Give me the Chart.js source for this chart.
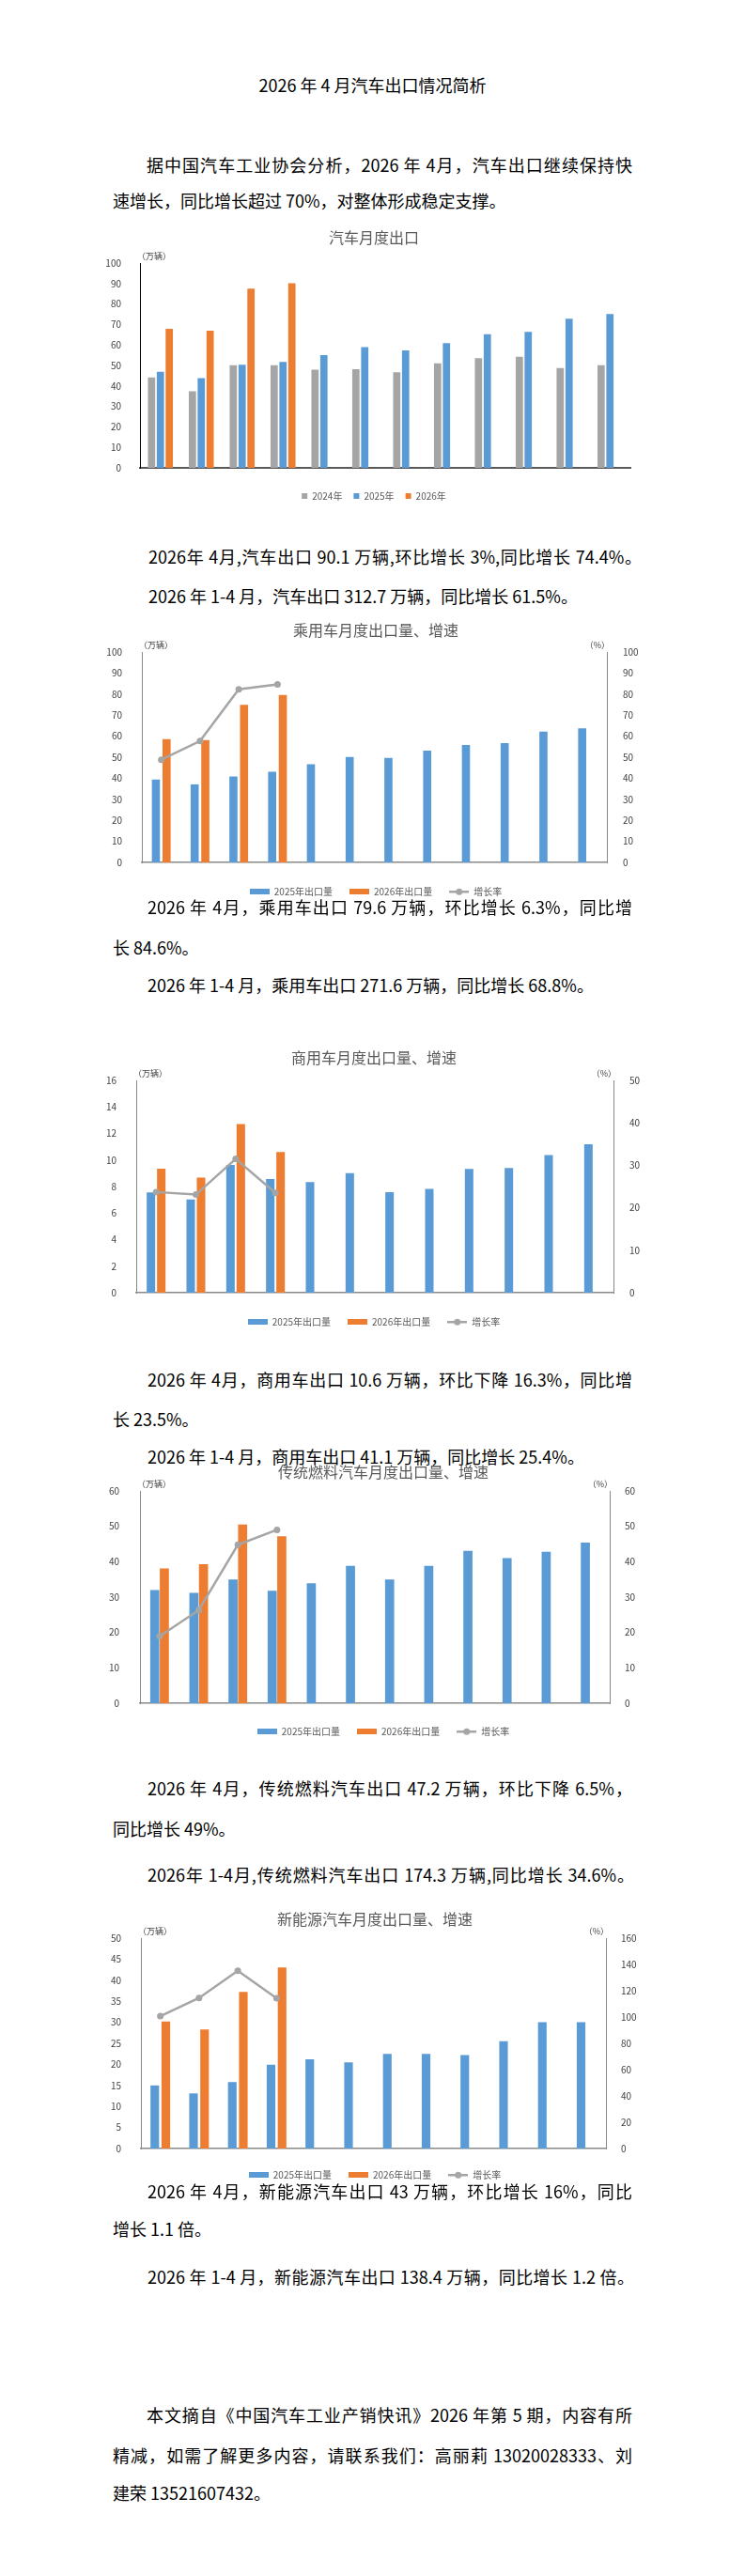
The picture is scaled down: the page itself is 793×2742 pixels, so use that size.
<!DOCTYPE html>
<html lang="zh">
<head>
<meta charset="utf-8">
<title>2026年4月汽车出口情况简析</title>
<script src="https://cdn.jsdelivr.net/npm/chart.js@4.4.1/dist/chart.umd.min.js"></script>
<style>
  body { margin: 0; background: #fff; }
  #page { position: relative; width: 793px; height: 2742px; overflow: hidden;
          font-family: "Noto Sans CJK SC", "Noto Sans", sans-serif; color: #000; }
  .ln { position: absolute; font-size: 18px; line-height: 26px; white-space: nowrap; }
  .jf { white-space: normal; text-align: justify; text-align-last: justify; }
  canvas { position: absolute; left: 0; }
</style>
</head>
<body>
<div id="page">
  <div class="ln" style="left:0;width:793px;text-align:center;top:77px">2026 年 4 月汽车出口情况简析</div>
  <div class="ln jf" style="left:156px;width:517px;top:162px">据中国汽车工业协会分析，2026 年 4月，汽车出口继续保持快</div>
  <div class="ln" style="left:120px;top:200px">速增长，同比增长超过 70%，对整体形成稳定支撑。</div>

  <canvas id="totalChart"></canvas>

  <div class="ln jf" style="left:158px;width:525px;top:579px">2026年 4月,汽车出口 90.1 万辆,环比增长 3%,同比增长 74.4%。</div>
  <div class="ln" style="left:158px;top:621px">2026 年 1-4 月，汽车出口 312.7 万辆，同比增长 61.5%。</div>

  <canvas id="passengerChart"></canvas>

  <div class="ln jf" style="left:157px;width:516px;top:952px">2026 年 4月，乘用车出口 79.6 万辆，环比增长 6.3%，同比增</div>
  <div class="ln" style="left:120px;top:995px">长 84.6%。</div>
  <div class="ln" style="left:157px;top:1035px">2026 年 1-4 月，乘用车出口 271.6 万辆，同比增长 68.8%。</div>

  <canvas id="commercialChart"></canvas>

  <div class="ln jf" style="left:157px;width:516px;top:1455px">2026 年 4月，商用车出口 10.6 万辆，环比下降 16.3%，同比增</div>
  <div class="ln" style="left:120px;top:1497px">长 23.5%。</div>
  <div class="ln" style="left:157px;top:1537px">2026 年 1-4 月，商用车出口 41.1 万辆，同比增长 25.4%。</div>

  <canvas id="fuelChart"></canvas>

  <div class="ln jf" style="left:157px;width:516px;top:1890px">2026 年 4月，传统燃料汽车出口 47.2 万辆，环比下降 6.5%，</div>
  <div class="ln" style="left:120px;top:1933px">同比增长 49%。</div>
  <div class="ln jf" style="left:157px;width:518px;top:1982px">2026年 1-4月,传统燃料汽车出口 174.3 万辆,同比增长 34.6%。</div>

  <canvas id="nevChart"></canvas>

  <div class="ln jf" style="left:157px;width:516px;top:2319px">2026 年 4月，新能源汽车出口 43 万辆，环比增长 16%，同比</div>
  <div class="ln" style="left:120px;top:2359px">增长 1.1 倍。</div>
  <div class="ln jf" style="left:157px;width:518px;top:2410px">2026 年 1-4 月，新能源汽车出口 138.4 万辆，同比增长 1.2 倍。</div>

  <div class="ln jf" style="left:156px;width:517px;top:2557px">本文摘自《中国汽车工业产销快讯》2026 年第 5 期，内容有所</div>
  <div class="ln jf" style="left:120px;width:553px;top:2600px">精减，如需了解更多内容，请联系我们：高丽莉 13020028333、刘</div>
  <div class="ln" style="left:120px;top:2640px">建荣 13521607432。</div>
</div>

<script>
// 数据（万辆 / %）
const months = ['1月', '2月', '3月', '4月', '5月', '6月', '7月', '8月', '9月', '10月', '11月', '12月'];

const total2024 = [44.1, 37.4, 50.1, 50.1, 47.9, 48.2, 46.7, 51.0, 53.6, 54.2, 48.7, 50.1];
const total2025 = [46.9, 43.8, 50.4, 51.7, 55.0, 58.9, 57.3, 60.9, 65.2, 66.4, 72.8, 75.1];
const total2026 = [67.9, 67.0, 87.5, 90.1];
const totalTicks = [0, 10, 20, 30, 40, 50, 60, 70, 80, 90, 100];

const passenger2025 = [39.4, 37.1, 40.8, 43.1, 46.6, 50.1, 49.7, 53.1, 55.8, 56.7, 62.2, 63.7];
const passenger2026 = [58.6, 58.2, 74.9, 79.6];
const passengerRate = [48.8, 57.7, 82.3, 84.6];
const passengerTicks = [0, 10, 20, 30, 40, 50, 60, 70, 80, 90, 100];
const passengerRateTicks = [0, 10, 20, 30, 40, 50, 60, 70, 80, 90, 100];

const commercial2025 = [7.55, 7.03, 9.63, 8.57, 8.33, 9.01, 7.58, 7.83, 9.32, 9.39, 10.38, 11.19];
const commercial2026 = [9.35, 8.68, 12.7, 10.6];
const commercialRate = [23.7, 23.1, 31.5, 23.5];
const commercialTicks = [0, 2, 4, 6, 8, 10, 12, 14, 16];
const commercialRateTicks = [0, 10, 20, 30, 40, 50];

const fuel2025 = [32.0, 31.2, 35.0, 31.8, 33.9, 38.8, 35.0, 38.8, 43.1, 41.0, 42.8, 45.4];
const fuel2026 = [38.1, 39.3, 50.5, 47.2];
const fuelRate = [18.9, 26.3, 44.8, 49.0];
const fuelTicks = [0, 10, 20, 30, 40, 50, 60];
const fuelRateTicks = [0, 10, 20, 30, 40, 50, 60];

const nev2025 = [15.0, 13.1, 15.8, 19.9, 21.2, 20.5, 22.5, 22.5, 22.2, 25.5, 30.0, 30.0];
const nev2026 = [30.2, 28.3, 37.2, 43.0];
const nevRate = [100.7, 114.5, 135.2, 114.3];
const nevTicks = [0, 5, 10, 15, 20, 25, 30, 35, 40, 45, 50];
const nevRateTicks = [0, 20, 40, 60, 80, 100, 120, 140, 160];

const GRAY = '#A5A5A5';
const BLUE = '#5B9BD5';
const ORANGE = '#ED7D31';
const PAGE_W = 793;

Chart.defaults.font.family = '"Noto Sans CJK SC", "Noto Sans", sans-serif';
Chart.defaults.font.size = 10;
Chart.defaults.color = '#404040';
Chart.defaults.animation = false;

// （万辆） / （%） above the axes
const unitLabels = {
  id: 'unitLabels',
  afterDraw(chart, args, opts) {
    const { ctx, chartArea } = chart;
    ctx.save();
    ctx.font = '9px "Noto Sans CJK SC", sans-serif';
    ctx.fillStyle = '#404040';
    ctx.textBaseline = 'middle';
    ctx.textAlign = 'left';
    ctx.fillText(opts.left, chartArea.left - 3, chartArea.top - 7);
    if (opts.right) {
      ctx.textAlign = 'right';
      ctx.fillText(opts.right, chartArea.right + 3, chartArea.top - 7);
    }
    ctx.restore();
  }
};

// little legend pictures: a thick bar, or a line with a dot for 增长率
function legendIcon(color, isLine) {
  const c = document.createElement('canvas');
  c.width = 21;
  c.height = 8;
  const g = c.getContext('2d');
  g.fillStyle = color;
  if (isLine) {
    g.fillRect(0, 3, 21, 2.5);
    g.beginPath();
    g.arc(10.5, 4.2, 3.5, 0, Math.PI * 2);
    g.fill();
  } else {
    g.fillRect(0, 1, 21, 6);
  }
  return c;
}

function tickAxis(ticks, extra) {
  return Object.assign({
    min: ticks[0],
    max: ticks[ticks.length - 1],
    afterBuildTicks: (s) => { s.ticks = ticks.map((v) => ({ value: v })); },
    grid: { display: false },
  }, extra);
}

function barSet(label, data, color) {
  return { label: label, data: data, backgroundColor: color, order: 0 };
}

function rateSet(data) {
  return {
    type: 'line', label: '增长率', data: data, yAxisID: 'y2', order: -1,
    borderColor: GRAY, backgroundColor: GRAY, borderWidth: 2.5, tension: 0,
    pointRadius: 3.5, pointBackgroundColor: GRAY, pointBorderWidth: 0,
  };
}

function buildChart(id, spec) {
  const lay = spec.layout;
  const top = lay.titleY - 14;
  const height = lay.legendY + 15 - top;
  const canvas = document.getElementById(id);
  canvas.width = PAGE_W;
  canvas.height = height;
  canvas.style.top = top + 'px';

  // title/legend box centred on lay.cx; axis boxes fill the rest
  const padL = Math.max(0, 2 * lay.cx - PAGE_W);
  const padR = Math.max(0, PAGE_W - 2 * lay.cx);
  const wL = lay.l - padL;
  const wR = PAGE_W - padR - lay.r;
  const titleTop = 14 - 16 * 0.6;
  const titleBottom = lay.t - top - 16 * 1.2 - titleTop;
  const xH = lay.legendY - 5 - lay.legendPad - lay.b;
  const icons = !!spec.rightTicks;

  const scales = {
    x: {
      grid: { display: false },
      border: { color: lay.xAxisColor, width: lay.xAxisWidth },
      ticks: { padding: lay.xLabelY - lay.b - 6, color: '#404040', autoSkip: false, maxRotation: 0 },
      afterFit: (s) => { s.height = xH; },
    },
    y: tickAxis(spec.leftTicks, {
      position: 'left',
      border: { color: lay.yAxisColor, width: 1 },
      ticks: { padding: lay.l - lay.leftLabelX },
      afterFit: (s) => { s.width = wL; },
    }),
  };
  if (spec.rightTicks) {
    scales.y2 = tickAxis(spec.rightTicks, {
      position: 'right',
      border: { color: lay.yAxisColor, width: 1 },
      ticks: { padding: lay.rightLabelX - lay.r },
      afterFit: (s) => { s.width = wR; },
    });
  } else {
    // empty right-hand box so the plot keeps its width
    scales.y2 = tickAxis(spec.leftTicks, {
      position: 'right',
      border: { display: false },
      ticks: { display: false },
      afterFit: (s) => { s.width = wR; },
    });
  }

  new Chart(canvas, {
    type: 'bar',
    data: { labels: months, datasets: spec.datasets },
    plugins: [unitLabels],
    options: {
      responsive: false,
      devicePixelRatio: 1,
      datasets: { bar: { categoryPercentage: spec.catPct, barPercentage: spec.barPct } },
      layout: { autoPadding: false, padding: { left: padL, right: padR, top: 0, bottom: 0 } },
      scales: scales,
      plugins: {
        title: {
          display: true, text: spec.title, color: '#595959',
          font: { size: 16, weight: 'normal' },
          padding: { top: titleTop, bottom: titleBottom },
        },
        legend: {
          position: 'bottom',
          labels: {
            boxWidth: lay.boxW, boxHeight: lay.boxH, padding: lay.legendPad,
            usePointStyle: icons, pointStyleWidth: icons ? lay.boxW : undefined,
            color: '#595959', font: { size: 10 },
            sort: (a, b) => a.datasetIndex - b.datasetIndex,
            generateLabels: (chart) => {
              const items = Chart.defaults.plugins.legend.labels.generateLabels(chart);
              items.forEach((it) => {
                it.lineWidth = 0;
                if (icons) {
                  const ds = chart.data.datasets[it.datasetIndex];
                  it.pointStyle = legendIcon(ds.backgroundColor, ds.type === 'line');
                }
              });
              return items;
            },
          },
        },
        tooltip: { enabled: false },
        unitLabels: spec.units,
      },
    },
  });
}

buildChart('totalChart', {
  title: '汽车月度出口',
  units: { left: '（万辆）' },
  leftTicks: totalTicks,
  catPct: 0.65, barPct: 0.82,
  datasets: [
    barSet('2024年', total2024, GRAY),
    barSet('2025年', total2025, BLUE),
    barSet('2026年', total2026, ORANGE),
  ],
  layout: { titleY: 253, cx: 398, l: 149, r: 671, t: 280, b: 498, xLabelY: 513, legendY: 528,
            leftLabelX: 137, legendPad: 12, boxW: 6, boxH: 6,
            xAxisColor: '#595959', xAxisWidth: 2, yAxisColor: '#000000' },
});

buildChart('passengerChart', {
  title: '乘用车月度出口量、增速',
  units: { left: '（万辆）', right: '（%）' },
  leftTicks: passengerTicks, rightTicks: passengerRateTicks,
  catPct: 0.55, barPct: 0.76,
  datasets: [
    barSet('2025年出口量', passenger2025, BLUE),
    barSet('2026年出口量', passenger2026, ORANGE),
    rateSet(passengerRate),
  ],
  layout: { titleY: 671, cx: 400, l: 151, r: 646, t: 694, b: 918, xLabelY: 932, legendY: 949,
            leftLabelX: 138, rightLabelX: 655, legendPad: 18, boxW: 21, boxH: 6,
            xAxisColor: '#898989', xAxisWidth: 1.5, yAxisColor: '#898989' },
});

buildChart('commercialChart', {
  title: '商用车月度出口量、增速',
  units: { left: '（万辆）', right: '（%）' },
  leftTicks: commercialTicks, rightTicks: commercialRateTicks,
  catPct: 0.52, barPct: 0.82,
  datasets: [
    barSet('2025年出口量', commercial2025, BLUE),
    barSet('2026年出口量', commercial2026, ORANGE),
    rateSet(commercialRate),
  ],
  layout: { titleY: 1126, cx: 398, l: 145, r: 653, t: 1150, b: 1376, xLabelY: 1388, legendY: 1407,
            leftLabelX: 132, rightLabelX: 662, legendPad: 18, boxW: 21, boxH: 6,
            xAxisColor: '#898989', xAxisWidth: 1.5, yAxisColor: '#898989' },
});

buildChart('fuelChart', {
  title: '传统燃料汽车月度出口量、增速',
  units: { left: '（万辆）', right: '（%）' },
  leftTicks: fuelTicks, rightTicks: fuelRateTicks,
  catPct: 0.49, barPct: 0.95,
  datasets: [
    barSet('2025年出口量', fuel2025, BLUE),
    barSet('2026年出口量', fuel2026, ORANGE),
    rateSet(fuelRate),
  ],
  layout: { titleY: 1567, cx: 408, l: 149, r: 649, t: 1587, b: 1813, xLabelY: 1827, legendY: 1843,
            leftLabelX: 135, rightLabelX: 657, legendPad: 18, boxW: 21, boxH: 6,
            xAxisColor: '#898989', xAxisWidth: 1.5, yAxisColor: '#898989' },
});

buildChart('nevChart', {
  title: '新能源汽车月度出口量、增速',
  units: { left: '（万辆）', right: '（%）' },
  leftTicks: nevTicks, rightTicks: nevRateTicks,
  catPct: 0.57, barPct: 0.78,
  datasets: [
    barSet('2025年出口量', nev2025, BLUE),
    barSet('2026年出口量', nev2026, ORANGE),
    rateSet(nevRate),
  ],
  layout: { titleY: 2043, cx: 399, l: 150, r: 645, t: 2063, b: 2287, xLabelY: 2301, legendY: 2315,
            leftLabelX: 137, rightLabelX: 653, legendPad: 18, boxW: 21, boxH: 6,
            xAxisColor: '#898989', xAxisWidth: 1.5, yAxisColor: '#898989' },
});
</script>
</body>
</html>
